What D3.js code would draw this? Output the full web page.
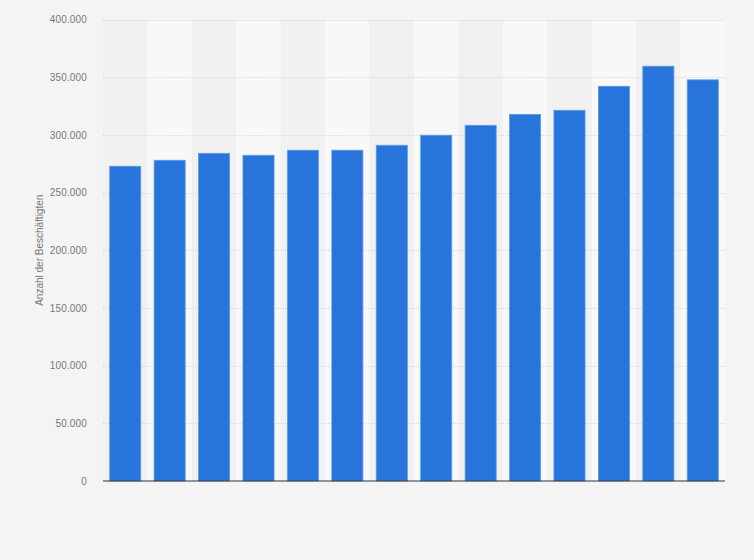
<!DOCTYPE html>
<html><head><meta charset="utf-8">
<script src="https://cdn.jsdelivr.net/npm/d3@7"></script>
<style>
html,body{margin:0;padding:0;background:#f4f4f4;}
svg{display:block;font-family:"Liberation Sans",Arial,sans-serif;}
</style></head>
<body>
<svg id="chart" width="754" height="560"></svg>
<script>
const categories = ["1","2","3","4","5","6","7","8","9","10","11","12","13","14"];
const values = [272800, 278000, 284000, 282300, 286700, 286700, 291000, 299700, 308300, 317800, 321300, 342100, 359500, 347700];
const yTicks = [0, 50000, 100000, 150000, 200000, 250000, 300000, 350000, 400000];
const yTitle = "Anzahl der Beschäftigten";

const svg = d3.select("#chart");
const m = {left: 103, right: 29, top: 19.5, bottom: 79};
const W = 754, H = 560;
const x = d3.scaleBand().domain(categories).range([m.left, W - m.right]).padding(0);
const y = d3.scaleLinear().domain([0, 400000]).range([H - m.bottom, m.top]);

svg.append("rect").attr("width", W).attr("height", H).attr("fill", "#f4f4f4");

// alternating column bands
svg.append("g").selectAll("rect").data(categories).join("rect")
  .attr("x", d => x(d)).attr("width", x.bandwidth())
  .attr("y", y(400000)).attr("height", y(0) - y(400000))
  .attr("fill", (d, i) => i % 2 === 0 ? "#f1f1f1" : "#f8f8f8");

// grid
const fmt = v => v === 0 ? "0" : d3.format(",")(v).replace(/,/g, ".");
const grid = svg.append("g");
grid.selectAll("line").data(yTicks.filter(v => v > 0)).join("line")
  .attr("x1", m.left).attr("x2", W - m.right)
  .attr("y1", d => Math.round(y(d)) + 0.5).attr("y2", d => Math.round(y(d)) + 0.5)
  .attr("stroke", "#d2d2d2").attr("stroke-width", 1).attr("stroke-dasharray", "1,1.5");

// y axis labels
const yAxis = d3.axisLeft(y).tickValues(yTicks).tickFormat(fmt).tickSize(0).tickPadding(16);
const ga = svg.append("g").attr("transform", `translate(${m.left},0)`).call(yAxis);
ga.select(".domain").remove();
ga.selectAll("text").attr("fill", "#777").attr("font-size", "10px")
  .attr("letter-spacing", "0.15px")
  .attr("font-family", "'Liberation Sans',Arial,sans-serif");

// bars
const bw = x.bandwidth() * 0.7;
svg.append("g").selectAll("rect").data(values).join("rect")
  .attr("x", (d, i) => x(categories[i]) + (x.bandwidth() - bw) / 2)
  .attr("width", bw)
  .attr("y", d => y(d))
  .attr("height", d => y(0) - y(d))
  .attr("fill", "#2775db")
  .attr("stroke", "#5b9be8").attr("stroke-width", 0.8);

// baseline
svg.append("line").attr("x1", m.left).attr("x2", W - m.right)
  .attr("y1", y(0)).attr("y2", y(0)).attr("stroke", "#333").attr("stroke-width", 1.2);

// y title
svg.append("text").attr("transform", `translate(43,${(y(0) + y(400000)) / 2}) rotate(-90)`)
  .attr("text-anchor", "middle").attr("fill", "#777").attr("font-size", "10px")
  .text(yTitle);
</script>
</body></html>
